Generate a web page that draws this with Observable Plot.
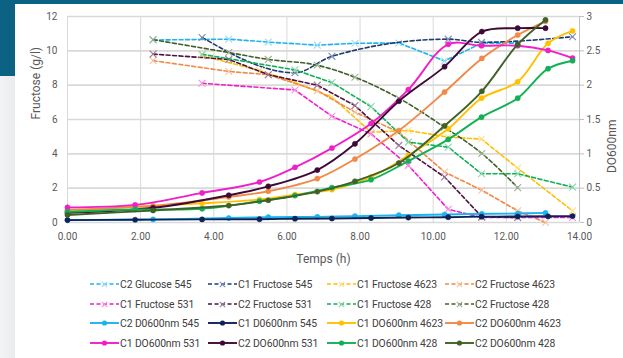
<!DOCTYPE html>
<html>
<head>
<meta charset="utf-8">
<script src="https://cdn.jsdelivr.net/npm/d3@7"></script>
<script src="https://cdn.jsdelivr.net/npm/@observablehq/plot@0.6"></script>
<style>
  html, body { margin: 0; padding: 0; background: #ffffff; width: 623px; height: 358px; overflow: hidden; }
  body { position: relative; font-family: Roboto, sans-serif; }
  #tealTop { position: absolute; left: 0; top: 0; width: 623px; height: 4px; background: #0b6282; }
  #tealLeft { position: absolute; left: 0; top: 0; width: 15px; height: 76px; background: #0b6282; }
  #grayLeft { position: absolute; left: 0; top: 76px; width: 15px; height: 282px; background: linear-gradient(to right, #f3f4f5, #e9ebec); }
  #chart { position: absolute; left: 0; top: 0; }
  #legend { position: absolute; left: 0; top: 0; width: 623px; height: 358px; pointer-events: none; }
  .item { position: absolute; display: flex; align-items: center; font-size: 10.4px; color: #404040; white-space: nowrap; letter-spacing: -0.1px; }
  .item svg { margin-right: 1px; }
</style>
</head>
<body>
<div id="tealTop"></div>
<div id="tealLeft"></div>
<div id="grayLeft"></div>
<div id="chart"></div>
<div id="legend"></div>
<script>
// ---- Sampling times (h) ----
const timesC1 = [0, 1.85, 3.68, 5.25, 6.22, 7.23, 8.30, 9.32, 10.41, 11.32, 12.31, 13.14, 13.81];
const timesC2 = [0, 2.34, 4.41, 5.49, 6.83, 7.86, 9.06, 10.31, 11.33, 12.31, 13.07];

// ---- Sugar concentrations (g/l, left axis) ----
const tGlucoseC2_545 = [2.34, 4.41, 5.49, 6.83, 7.86, 9.06, 10.31, 11.33, 12.31];
const vGlucoseC2_545 = [10.63, 10.68, 10.51, 10.33, 10.44, 10.46, 9.41, 10.45, 10.45];
const tFructoseC1_545 = [3.68, 6.22, 7.23, 10.41, 11.32, 13.81];
const vFructoseC1_545 = [10.78, 8.72, 9.68, 10.68, 10.5, 10.82];
const tFructoseC1_4623 = [3.68, 5.25, 6.22, 7.23, 8.30, 9.32, 10.41, 11.32, 12.31, 13.81];
const vFructoseC1_4623 = [9.72, 8.85, 8.15, 7.3, 5.26, 5.36, 4.97, 4.86, 3.17, 0.68];
const tFructoseC2_4623 = [2.34, 4.41, 5.49, 6.83, 7.86, 9.06, 10.31, 11.33, 12.31, 13.07];
const vFructoseC2_4623 = [9.43, 8.8, 8.61, 7.68, 6.43, 5.26, 2.94, 1.88, 0.68, 0.0];
const tFructoseC1_531 = [3.68, 6.22, 7.23, 8.30, 9.32, 10.41, 11.32, 12.31, 13.81];
const vFructoseC1_531 = [8.11, 7.72, 6.19, 5.16, 3.33, 0.77, 0.29, 0.29, 0.29];
const tFructoseC2_531 = [2.34, 4.41, 5.49, 6.83, 7.86, 9.06, 10.31, 11.33, 12.31];
const vFructoseC2_531 = [9.81, 9.5, 8.61, 8.0, 6.81, 4.49, 2.65, 0.33, 0.29];
const tFructoseC1_428 = [3.68, 6.22, 7.23, 8.30, 9.32, 10.41, 11.32, 12.31, 13.81];
const vFructoseC1_428 = [9.8, 8.89, 8.15, 6.75, 4.68, 4.39, 2.84, 2.84, 2.06];
const tFructoseC2_428 = [2.34, 4.41, 5.49, 6.83, 7.86, 9.06, 10.31, 11.33, 12.31];
const vFructoseC2_428 = [10.65, 9.9, 9.5, 9.16, 8.46, 7.24, 5.55, 4.02, 2.03];

// ---- Optical density DO600nm (right axis, 0–3) ----
const doC2_545  = [0.035, 0.045, 0.065, 0.077, 0.082, 0.092, 0.106, 0.116, 0.126, 0.131, 0.14];
const doC1_545  = [0.035, 0.04, 0.045, 0.048, 0.055, 0.058, 0.065, 0.072, 0.077, 0.085, 0.087, 0.09, 0.093];
const doC1_4623 = [0.17, 0.23, 0.28, 0.334, 0.406, 0.479, 0.663, 0.977, 1.364, 1.81, 2.05, 2.61, 2.79];
const doC2_4623 = [0.185, 0.242, 0.373, 0.455, 0.639, 0.924, 1.34, 1.90, 2.39, 2.73, 2.93];
const doC1_531  = [0.22, 0.256, 0.431, 0.59, 0.803, 1.084, 1.442, 1.935, 2.595, 2.575, 2.575, 2.506, 2.394];
const doC2_531  = [0.14, 0.214, 0.397, 0.527, 0.764, 1.146, 1.766, 2.27, 2.78, 2.83, 2.83];
const doC1_428  = [0.155, 0.19, 0.2, 0.31, 0.392, 0.508, 0.624, 0.895, 1.21, 1.534, 1.81, 2.24, 2.356];
const doC2_428  = [0.11, 0.175, 0.247, 0.324, 0.45, 0.60, 0.866, 1.408, 1.911, 2.593, 2.95];

// ---- Axis ticks and titles ----
const xTicks = [0, 2, 4, 6, 8, 10, 12, 14];
const yLeftTicks = [0, 2, 4, 6, 8, 10, 12];
const yRightTicks = [0, 0.5, 1, 1.5, 2, 2.5, 3];
const xTitle = "Temps (h)";
const yLeftTitle = "Fructose (g/l)";
const yRightTitle = "DO600nm";
const rightToLeft = 4; // right axis 0–3 maps onto left axis 0–12

// ---- Series definitions ----
const sugarSeries = [
  {name: "C2 Glucose 545",   color: "#1cb4ee", mark: "#9fdcf5", curve: "linear",     t: tGlucoseC2_545,   v: vGlucoseC2_545},
  {name: "C1 Fructose 545",  color: "#1f3a6e", mark: "#7b8fb3", curve: "monotone-x", t: tFructoseC1_545,  v: vFructoseC1_545},
  {name: "C1 Fructose 4623", color: "#ffc000", mark: "#ffe08a", curve: "linear",     t: tFructoseC1_4623, v: vFructoseC1_4623},
  {name: "C2 Fructose 4623", color: "#f08a46", mark: "#f7c4a0", curve: "linear",     t: tFructoseC2_4623, v: vFructoseC2_4623},
  {name: "C1 Fructose 531",  color: "#f01fc8", mark: "#f78fe2", curve: "linear",     t: tFructoseC1_531,  v: vFructoseC1_531},
  {name: "C2 Fructose 531",  color: "#4e1245", mark: "#a07c9a", curve: "linear",     t: tFructoseC2_531,  v: vFructoseC2_531},
  {name: "C1 Fructose 428",  color: "#11b055", mark: "#88d7aa", curve: "linear",     t: tFructoseC1_428,  v: vFructoseC1_428},
  {name: "C2 Fructose 428",  color: "#3f6128", mark: "#9fb093", curve: "monotone-x", t: tFructoseC2_428,  v: vFructoseC2_428}
];
const doSeries = [
  {name: "C2 D0600nm 545",  color: "#1cb4ee", t: timesC2, v: doC2_545},
  {name: "C1 D0600nm 545",  color: "#0d2358", t: timesC1, v: doC1_545},
  {name: "C1 DO600nm 4623", color: "#ffc000", t: timesC1, v: doC1_4623},
  {name: "C2 DO600nm 4623", color: "#f08a46", t: timesC2, v: doC2_4623},
  {name: "C1 DO600nm 531",  color: "#f01fc8", t: timesC1, v: doC1_531},
  {name: "C2 DO600nm 531",  color: "#3d0a37", t: timesC2, v: doC2_531},
  {name: "C1 DO600nm 428",  color: "#11b055", t: timesC1, v: doC1_428},
  {name: "C2 DO600nm 428",  color: "#3f6128", t: timesC2, v: doC2_428}
];

const toRows = s => s.t.map((t, i) => ({t, v: s.v[i]}));

const marks = [
  Plot.gridX(xTicks.filter(d => d > 0 && d < 14), {stroke: "#d9d9d9", strokeOpacity: 1, strokeWidth: 1}),
  Plot.gridY(yLeftTicks.filter(d => d > 0), {stroke: "#d9d9d9", strokeOpacity: 1, strokeWidth: 1.6}),
  Plot.ruleX([0], {stroke: "#d9d9d9", strokeWidth: 1}),
  Plot.ruleY([0], {stroke: "#d9d9d9", strokeWidth: 1.6}),
  Plot.ruleX([14], {stroke: "#bfbfbf", strokeWidth: 1}),
  Plot.axisX({ticks: xTicks, tickSize: 0, tickPadding: 10, tickFormat: d => d.toFixed(2), fontSize: 10, label: null}),
  Plot.axisY({anchor: "left", ticks: yLeftTicks, tickSize: 0, tickPadding: 10, fontSize: 10, label: null}),
  Plot.axisY({anchor: "right", ticks: yRightTicks.map(d => d * rightToLeft), tickSize: 4, tickPadding: 3, fontSize: 10,
    stroke: "#bfbfbf", tickFormat: d => String(d / rightToLeft), label: null}),
  Plot.text([xTitle], {frameAnchor: "bottom", dy: 40, fontSize: 12, fill: "#595959"}),
  Plot.text([yLeftTitle], {frameAnchor: "left", dx: -31, rotate: -90, fontSize: 12, fill: "#595959"}),
  Plot.text([yRightTitle], {frameAnchor: "right", dx: 33, rotate: -90, fontSize: 12, fill: "#595959"})
];

for (const s of sugarSeries) {
  const rows = toRows(s);
  marks.push(Plot.line(rows, {x: "t", y: "v", stroke: s.color, strokeWidth: 1.6, strokeDasharray: "4,2.5", curve: s.curve}));
  marks.push(Plot.dot(rows, {x: "t", y: "v", symbol: "times", r: 3.2, stroke: s.mark, strokeWidth: 1.1}));
}
for (const s of doSeries) {
  const rows = toRows(s);
  marks.push(Plot.line(rows, {x: "t", y: d => d.v * rightToLeft, stroke: s.color, strokeWidth: 1.9, curve: "catmull-rom"}));
  marks.push(Plot.dot(rows, {x: "t", y: d => d.v * rightToLeft, r: 2.6, fill: s.color, stroke: s.color, strokeWidth: 0.5}));
}

const chart = Plot.plot({
  width: 623,
  height: 270,
  marginLeft: 67,
  marginRight: 44,
  marginTop: 16,
  marginBottom: 48,
  x: {domain: [0, 14]},
  y: {domain: [0, 12]},
  style: {fontFamily: 'Roboto, sans-serif', fontSize: "10px", color: "#595959", background: "transparent", overflow: "visible"},
  marks
});
document.getElementById("chart").appendChild(chart);

// ---- Legend (4 columns x 4 rows) ----
const legendOrder = [...sugarSeries.map(s => ({...s, kind: "sugar"})), ...doSeries.map(s => ({...s, kind: "do"}))];
const colX = [90, 208, 327, 445];
const rowY = [284, 304, 323, 343];
const legend = document.getElementById("legend");
legendOrder.forEach((s, i) => {
  const col = i % 4, row = Math.floor(i / 4);
  const item = document.createElement("div");
  item.className = "item";
  item.style.left = colX[col] + "px";
  item.style.top = (rowY[row] - 8) + "px";
  item.style.height = "16px";
  const ns = "http://www.w3.org/2000/svg";
  const svg = document.createElementNS(ns, "svg");
  svg.setAttribute("width", "29"); svg.setAttribute("height", "10");
  const line = document.createElementNS(ns, "line");
  line.setAttribute("x1", "0"); line.setAttribute("x2", "29");
  line.setAttribute("y1", "5"); line.setAttribute("y2", "5");
  line.setAttribute("stroke", s.color);
  if (s.kind === "sugar") {
    line.setAttribute("stroke-width", "1.6");
    line.setAttribute("stroke-dasharray", "4,2.5");
    svg.appendChild(line);
    const p = document.createElementNS(ns, "path");
    p.setAttribute("d", "M11.8,2.8L17.2,8.2M17.2,2.8L11.8,8.2");
    p.setAttribute("stroke", s.mark); p.setAttribute("stroke-width", "1.1");
    svg.appendChild(p);
  } else {
    line.setAttribute("stroke-width", "1.9");
    svg.appendChild(line);
    const c = document.createElementNS(ns, "circle");
    c.setAttribute("cx", "14.5"); c.setAttribute("cy", "5"); c.setAttribute("r", "2.6");
    c.setAttribute("fill", s.color);
    svg.appendChild(c);
  }
  item.appendChild(svg);
  const span = document.createElement("span");
  span.textContent = s.name;
  item.appendChild(span);
  legend.appendChild(item);
});
</script>
</body>
</html>
